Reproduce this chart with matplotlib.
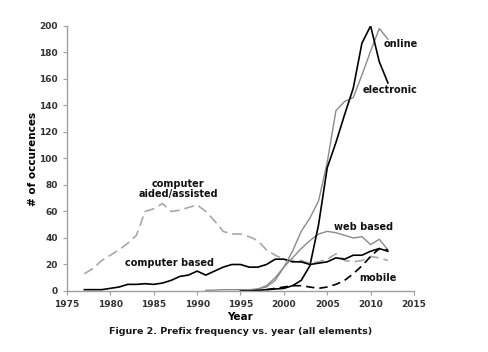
#!/usr/bin/env python3

import numpy as np
import matplotlib
matplotlib.use('Agg')
import matplotlib.pyplot as plt

# values (occurrences per year)
aided_years = list(range(1977, 2013))
aided = [13, 17, 23, 27, 31, 36, 42, 60, 62, 66, 60, 61, 63, 65, 60, 53, 45, 43,
         43, 41, 38, 31, 27, 24, 23, 23, 21, 22, 24, 28, 23, 22, 23, 26, 25, 23]

based_years = list(range(1977, 2013))
based = [1, 1, 1, 2, 3, 5, 5, 5.5, 5, 6, 8, 11, 12, 15, 12, 15, 18, 20,
         20, 18, 18, 20, 24, 24, 22, 22, 20, 21, 22, 25, 24, 27, 27, 30, 32, 30]

online_years = list(range(1991, 2013))
online = [0.5, 0.7, 1, 1, 1, 1, 1.5, 3, 8, 18, 30, 45, 55, 68, 97, 136,
          143, 146, 163, 181, 198, 190]

web_years = list(range(1995, 2013))
web = [0, 0.5, 1.5, 4, 10, 18, 25, 32, 38, 43, 45, 44, 42, 40, 41, 35, 39, 31]

elec_years = list(range(1995, 2013))
electronic = [0, 0, 0.5, 1, 1.5, 2, 4, 8, 19, 50, 93, 112, 133, 153, 187, 200, 173, 157]

mobile_years = list(range(1998, 2013))
mobile = [1, 2, 3, 4, 4, 3, 2, 3, 5, 8, 13, 19, 26, 32, 31]

fig = plt.figure(figsize=(4.88, 3.52), dpi=100)
ax = fig.add_axes([0.1373, 0.1733, 0.711, 0.753])

ax.plot(aided_years, aided, color='#a8a8a8', lw=1.2, dashes=(6, 3))
ax.plot(based_years, based, color='black', lw=1.2)
ax.plot(online_years, online, color='#8a8a8a', lw=1.0)
ax.plot(web_years, web, color='#8a8a8a', lw=1.0)
ax.plot(elec_years, electronic, color='black', lw=1.2)
ax.plot(mobile_years, mobile, color='black', lw=1.2, dashes=(5, 3))

ax.set_xlim(1975, 2015)
ax.set_ylim(0, 200)
ax.set_xticks(np.arange(1975, 2016, 5))
ax.set_yticks(np.arange(0, 201, 20))

for s in ['top', 'right']:
    ax.spines[s].set_visible(False)
for s in ['left', 'bottom']:
    ax.spines[s].set_color('#a0a0a0')
    ax.spines[s].set_linewidth(1.0)
ax.tick_params(colors='#a0a0a0', length=3, width=0.8, labelcolor='#333333',
               labelsize=6.5)
for lab in ax.get_xticklabels() + ax.get_yticklabels():
    lab.set_fontweight('bold')

ax.set_xlabel('Year', fontsize=7.5, fontweight='bold', labelpad=2)
ax.set_ylabel('# of occurences', fontsize=7.5, fontweight='bold', labelpad=1)

lab_kw = dict(fontsize=7, fontweight='bold', ha='center', va='center', color='#111111')
ax.text(2013.5, 186, 'online', **lab_kw)
ax.text(2012.3, 152, 'electronic', **lab_kw)
ax.text(2009.2, 48, 'web based', **lab_kw)
ax.text(2010.8, 10, 'mobile', **lab_kw)
ax.text(1986.8, 21, 'computer based', **lab_kw)
ax.text(1987.8, 77, 'computer\naided/assisted', linespacing=1.1, **lab_kw)

fig.text(241 / 488, 1 - 331 / 352, 'Figure 2. Prefix frequency vs. year (all elements)',
         fontsize=6.8, fontweight='bold', ha='center', va='center', color='#1a1a1a')

fig.savefig('out.png', dpi=100)
